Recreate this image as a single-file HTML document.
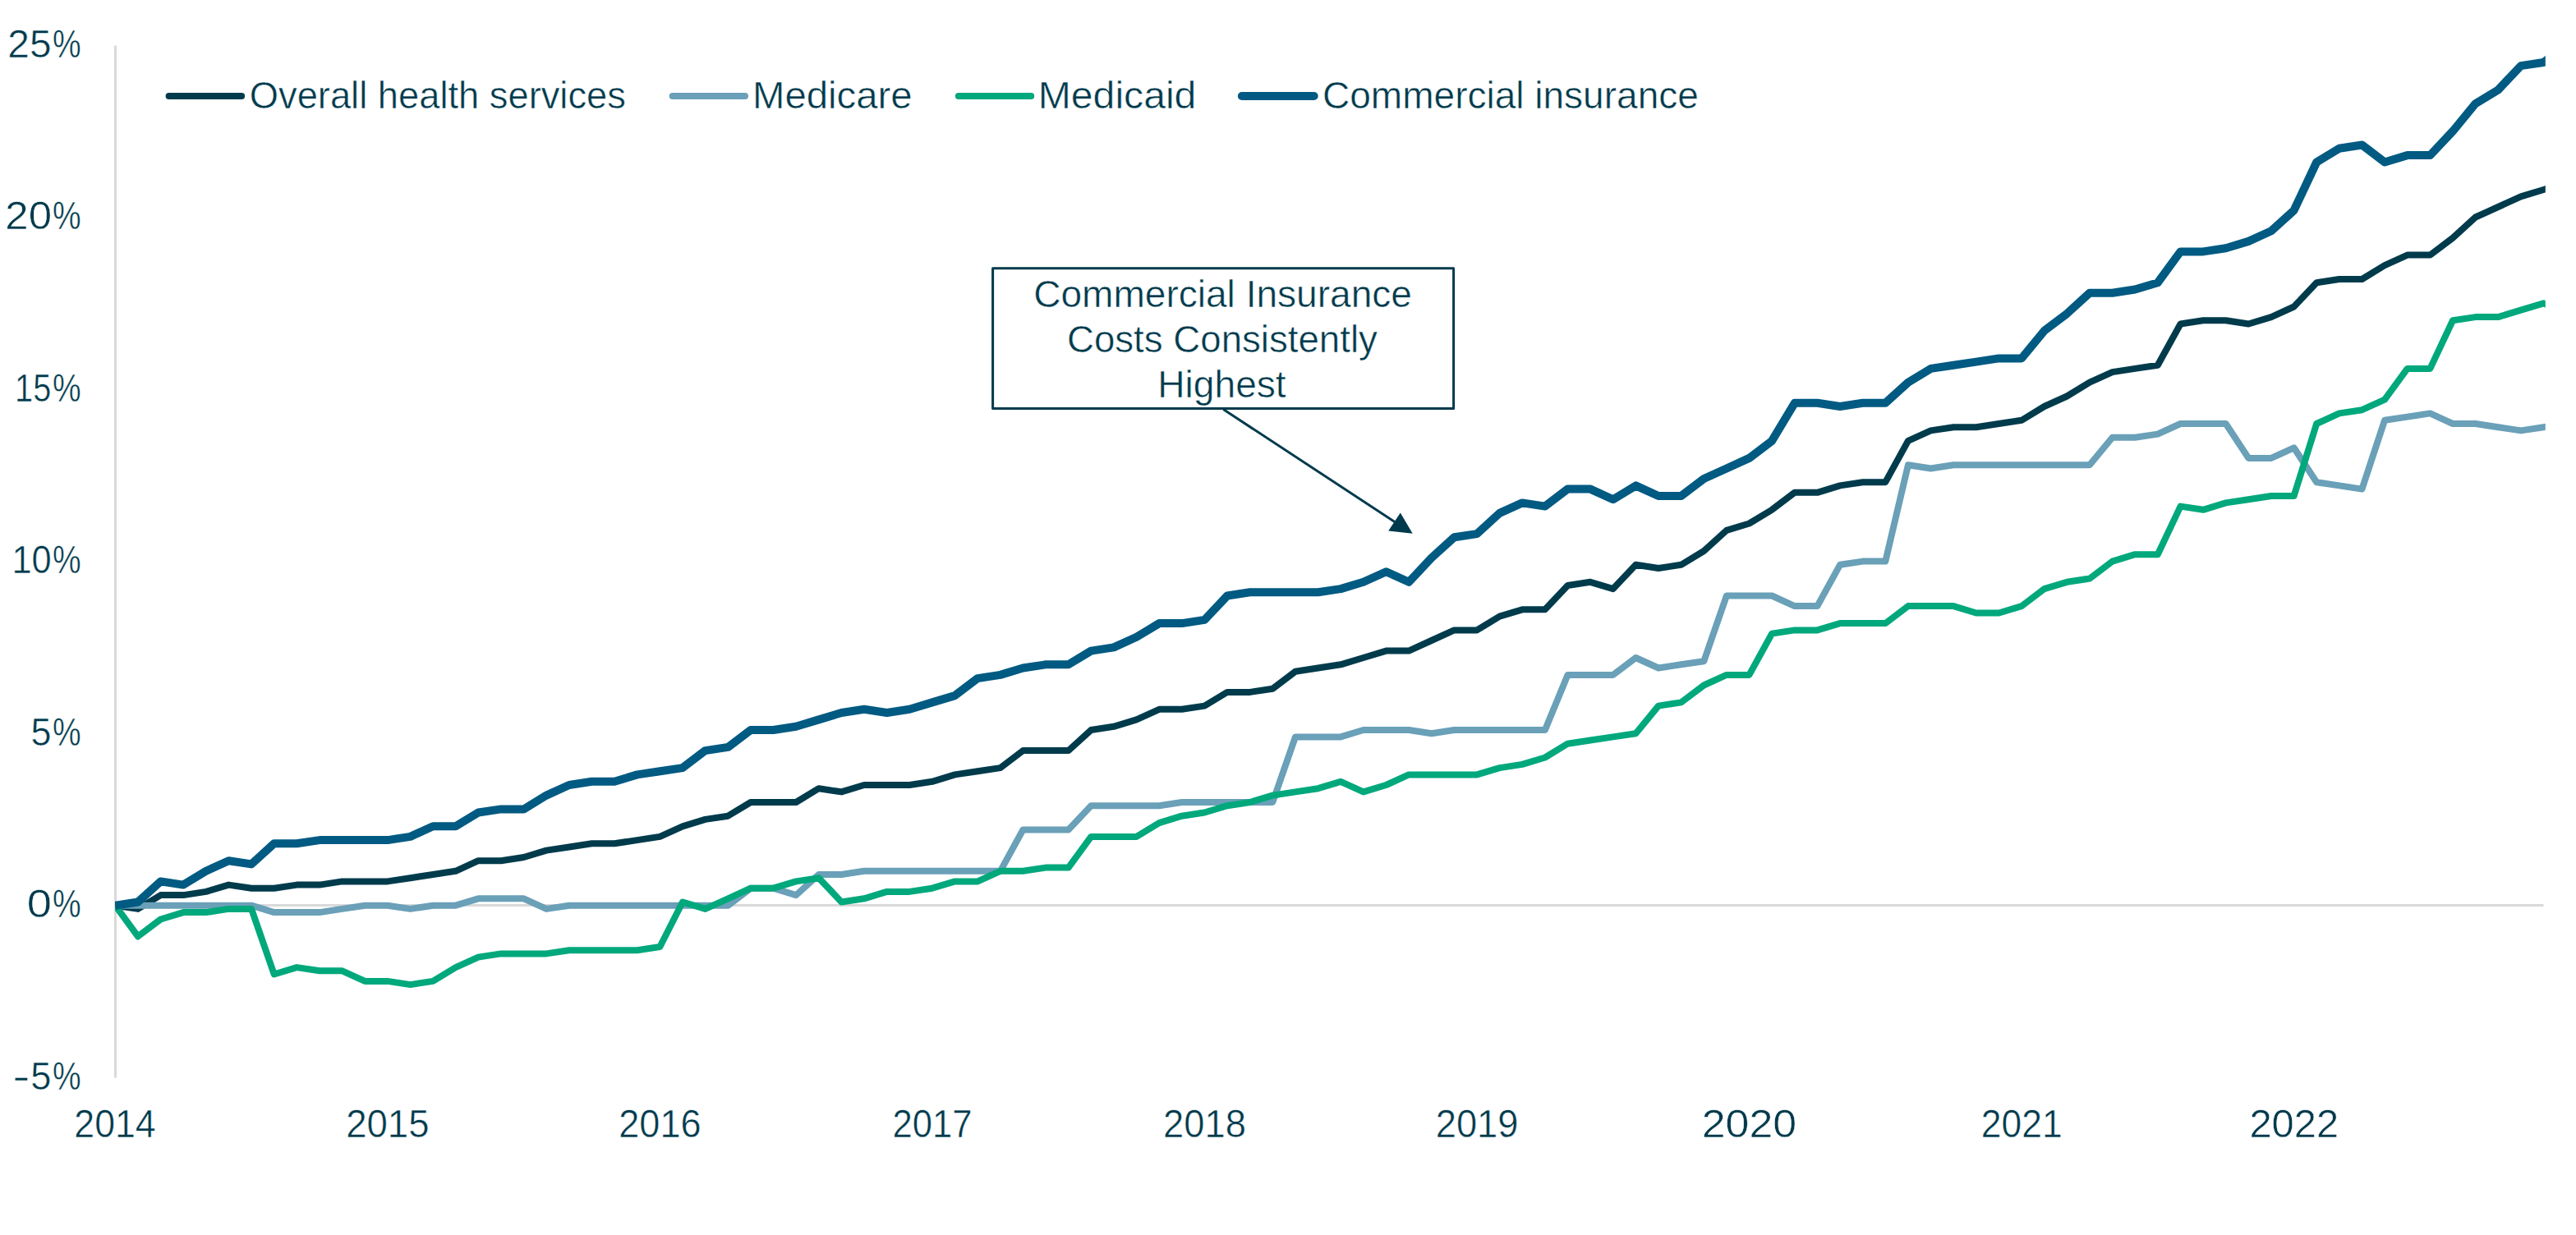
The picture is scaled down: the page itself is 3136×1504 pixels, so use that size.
<!DOCTYPE html>
<html lang="en"><head><meta charset="utf-8"><title>Cumulative percent change in health services prices by payer</title>
<style>
html,body{margin:0;padding:0;background:#fff;width:3136px;height:1504px;overflow:hidden;}
svg{display:block;}
text{font-family:"Liberation Sans",sans-serif;font-kerning:none;fill:#003a4c;stroke:#fff;stroke-width:0.5px;}
</style></head><body>
<svg width="3136" height="1504" viewBox="0 0 3136 1504">
<rect width="3136" height="1504" fill="#fff"/>
<defs><clipPath id="plot"><rect x="140" y="0" width="2958.8" height="1504"/></clipPath></defs>

<line x1="140.5" y1="55.4" x2="140.5" y2="1312.4" stroke="#d9d9d9" stroke-width="3"/>
<line x1="140" y1="1102.5" x2="3096.5" y2="1102.5" stroke="#d9d9d9" stroke-width="3"/>
<text font-size="47.30" y="69.70"><tspan x="9.39" textLength="53.22" lengthAdjust="spacingAndGlyphs">25</tspan><tspan x="63.91" textLength="34.68" lengthAdjust="spacingAndGlyphs">%</tspan></text>
<text font-size="47.30" y="279.18"><tspan x="6.34" textLength="56.65" lengthAdjust="spacingAndGlyphs">20</tspan><tspan x="63.91" textLength="34.68" lengthAdjust="spacingAndGlyphs">%</tspan></text>
<text font-size="47.30" y="488.66"><tspan x="18.07" textLength="44.19" lengthAdjust="spacingAndGlyphs">15</tspan><tspan x="63.91" textLength="34.68" lengthAdjust="spacingAndGlyphs">%</tspan></text>
<text font-size="47.30" y="698.14"><tspan x="14.39" textLength="48.30" lengthAdjust="spacingAndGlyphs">10</tspan><tspan x="63.91" textLength="34.68" lengthAdjust="spacingAndGlyphs">%</tspan></text>
<text font-size="47.30" y="907.62"><tspan x="37.50" textLength="24.99" lengthAdjust="spacingAndGlyphs">5</tspan><tspan x="63.91" textLength="34.68" lengthAdjust="spacingAndGlyphs">%</tspan></text>
<text font-size="47.30" y="1117.10"><tspan x="32.88" textLength="30.25" lengthAdjust="spacingAndGlyphs">0</tspan><tspan x="63.91" textLength="34.68" lengthAdjust="spacingAndGlyphs">%</tspan></text>
<text font-size="47.30" y="1326.58"><tspan x="15.24" textLength="21.41" lengthAdjust="spacingAndGlyphs">-</tspan><tspan x="37.28" textLength="25.22" lengthAdjust="spacingAndGlyphs">5</tspan><tspan x="63.91" textLength="34.68" lengthAdjust="spacingAndGlyphs">%</tspan></text>
<text font-size="47.30" y="1384.70"><tspan x="90.35" textLength="99.35" lengthAdjust="spacingAndGlyphs">2014</tspan></text>
<text font-size="47.30" y="1384.70"><tspan x="421.14" textLength="101.41" lengthAdjust="spacingAndGlyphs">2015</tspan></text>
<text font-size="47.30" y="1384.70"><tspan x="753.25" textLength="100.35" lengthAdjust="spacingAndGlyphs">2016</tspan></text>
<text font-size="47.30" y="1384.70"><tspan x="1086.62" textLength="96.99" lengthAdjust="spacingAndGlyphs">2017</tspan></text>
<text font-size="47.30" y="1384.70"><tspan x="1416.12" textLength="100.75" lengthAdjust="spacingAndGlyphs">2018</tspan></text>
<text font-size="47.30" y="1384.70"><tspan x="1747.70" textLength="100.83" lengthAdjust="spacingAndGlyphs">2019</tspan></text>
<text font-size="47.30" y="1384.70"><tspan x="2071.71" textLength="115.44" lengthAdjust="spacingAndGlyphs">2020</tspan></text>
<text font-size="47.30" y="1384.70"><tspan x="2411.87" textLength="98.70" lengthAdjust="spacingAndGlyphs">2021</tspan></text>
<text font-size="47.30" y="1384.70"><tspan x="2738.43" textLength="108.72" lengthAdjust="spacingAndGlyphs">2022</tspan></text>
<g clip-path="url(#plot)" fill="none" stroke-linejoin="round" stroke-linecap="butt">
<polyline points="140.3,1102.7 167.9,1106.9 195.6,1090.1 223.2,1090.1 250.8,1085.9 278.4,1077.6 306.1,1081.7 333.7,1081.7 361.3,1077.6 389.0,1077.6 416.6,1073.4 444.2,1073.4 471.8,1073.4 499.5,1069.2 527.1,1065.0 554.7,1060.8 582.3,1048.2 610.0,1048.2 637.6,1044.0 665.2,1035.6 692.9,1031.5 720.5,1027.3 748.1,1027.3 775.7,1023.1 803.4,1018.9 831.0,1006.3 858.6,997.9 886.3,993.7 913.9,977.0 941.5,977.0 969.1,977.0 996.8,960.2 1024.4,964.4 1052.0,956.0 1079.7,956.0 1107.3,956.0 1134.9,951.8 1162.5,943.4 1190.2,939.3 1217.8,935.1 1245.4,914.1 1273.0,914.1 1300.7,914.1 1328.3,889.0 1355.9,884.8 1383.6,876.4 1411.2,863.8 1438.8,863.8 1466.4,859.6 1494.1,842.9 1521.7,842.9 1549.3,838.7 1577.0,817.7 1604.6,813.5 1632.2,809.3 1659.8,801.0 1687.5,792.6 1715.1,792.6 1742.7,780.0 1770.4,767.4 1798.0,767.4 1825.6,750.7 1853.2,742.3 1880.9,742.3 1908.5,713.0 1936.1,708.8 1963.8,717.1 1991.4,687.8 2019.0,692.0 2046.6,687.8 2074.3,671.0 2101.9,645.9 2129.5,637.5 2157.1,620.8 2184.8,599.8 2212.4,599.8 2240.0,591.4 2267.7,587.2 2295.3,587.2 2322.9,536.9 2350.5,524.4 2378.2,520.2 2405.8,520.2 2433.4,516.0 2461.1,511.8 2488.7,495.0 2516.3,482.5 2543.9,465.7 2571.6,453.1 2599.2,448.9 2626.8,444.7 2654.5,394.5 2682.1,390.3 2709.7,390.3 2737.3,394.5 2765.0,386.1 2792.6,373.5 2820.2,344.2 2847.8,340.0 2875.5,340.0 2903.1,323.2 2930.7,310.6 2958.4,310.6 2986.0,289.7 3013.6,264.5 3041.2,252.0 3068.9,239.4 3096.5,231.0 3124.1,222.6" stroke="#003b4c" stroke-width="8"/>
<polyline points="140.3,1102.7 167.9,1102.7 195.6,1102.7 223.2,1102.7 250.8,1102.7 278.4,1102.7 306.1,1102.7 333.7,1111.1 361.3,1111.1 389.0,1111.1 416.6,1106.9 444.2,1102.7 471.8,1102.7 499.5,1106.9 527.1,1102.7 554.7,1102.7 582.3,1094.3 610.0,1094.3 637.6,1094.3 665.2,1106.9 692.9,1102.7 720.5,1102.7 748.1,1102.7 775.7,1102.7 803.4,1102.7 831.0,1102.7 858.6,1102.7 886.3,1102.7 913.9,1081.7 941.5,1081.7 969.1,1090.1 996.8,1065.0 1024.4,1065.0 1052.0,1060.8 1079.7,1060.8 1107.3,1060.8 1134.9,1060.8 1162.5,1060.8 1190.2,1060.8 1217.8,1060.8 1245.4,1010.5 1273.0,1010.5 1300.7,1010.5 1328.3,981.2 1355.9,981.2 1383.6,981.2 1411.2,981.2 1438.8,977.0 1466.4,977.0 1494.1,977.0 1521.7,977.0 1549.3,977.0 1577.0,897.4 1604.6,897.4 1632.2,897.4 1659.8,889.0 1687.5,889.0 1715.1,889.0 1742.7,893.2 1770.4,889.0 1798.0,889.0 1825.6,889.0 1853.2,889.0 1880.9,889.0 1908.5,821.9 1936.1,821.9 1963.8,821.9 1991.4,801.0 2019.0,813.5 2046.6,809.3 2074.3,805.2 2101.9,725.5 2129.5,725.5 2157.1,725.5 2184.8,738.1 2212.4,738.1 2240.0,687.8 2267.7,683.6 2295.3,683.6 2322.9,566.3 2350.5,570.5 2378.2,566.3 2405.8,566.3 2433.4,566.3 2461.1,566.3 2488.7,566.3 2516.3,566.3 2543.9,566.3 2571.6,532.8 2599.2,532.8 2626.8,528.6 2654.5,516.0 2682.1,516.0 2709.7,516.0 2737.3,557.9 2765.0,557.9 2792.6,545.3 2820.2,587.2 2847.8,591.4 2875.5,595.6 2903.1,511.8 2930.7,507.6 2958.4,503.4 2986.0,516.0 3013.6,516.0 3041.2,520.2 3068.9,524.4 3096.5,520.2 3124.1,516.0" stroke="#6aa0b8" stroke-width="8"/>
<polyline points="140.3,1102.7 167.9,1140.4 195.6,1119.5 223.2,1111.1 250.8,1111.1 278.4,1106.9 306.1,1106.9 333.7,1186.5 361.3,1178.1 389.0,1182.3 416.6,1182.3 444.2,1194.9 471.8,1194.9 499.5,1199.1 527.1,1194.9 554.7,1178.1 582.3,1165.6 610.0,1161.4 637.6,1161.4 665.2,1161.4 692.9,1157.2 720.5,1157.2 748.1,1157.2 775.7,1157.2 803.4,1153.0 831.0,1098.5 858.6,1106.9 886.3,1094.3 913.9,1081.7 941.5,1081.7 969.1,1073.4 996.8,1069.2 1024.4,1098.5 1052.0,1094.3 1079.7,1085.9 1107.3,1085.9 1134.9,1081.7 1162.5,1073.4 1190.2,1073.4 1217.8,1060.8 1245.4,1060.8 1273.0,1056.6 1300.7,1056.6 1328.3,1018.9 1355.9,1018.9 1383.6,1018.9 1411.2,1002.1 1438.8,993.7 1466.4,989.5 1494.1,981.2 1521.7,977.0 1549.3,968.6 1577.0,964.4 1604.6,960.2 1632.2,951.8 1659.8,964.4 1687.5,956.0 1715.1,943.4 1742.7,943.4 1770.4,943.4 1798.0,943.4 1825.6,935.1 1853.2,930.9 1880.9,922.5 1908.5,905.7 1936.1,901.5 1963.8,897.4 1991.4,893.2 2019.0,859.6 2046.6,855.4 2074.3,834.5 2101.9,821.9 2129.5,821.9 2157.1,771.6 2184.8,767.4 2212.4,767.4 2240.0,759.1 2267.7,759.1 2295.3,759.1 2322.9,738.1 2350.5,738.1 2378.2,738.1 2405.8,746.5 2433.4,746.5 2461.1,738.1 2488.7,717.1 2516.3,708.8 2543.9,704.6 2571.6,683.6 2599.2,675.2 2626.8,675.2 2654.5,616.6 2682.1,620.8 2709.7,612.4 2737.3,608.2 2765.0,604.0 2792.6,604.0 2820.2,516.0 2847.8,503.4 2875.5,499.2 2903.1,486.7 2930.7,448.9 2958.4,448.9 2986.0,390.3 3013.6,386.1 3041.2,386.1 3068.9,377.7 3096.5,369.3 3124.1,381.9" stroke="#00a87c" stroke-width="8"/>
<polyline points="140.3,1102.7 167.9,1098.5 195.6,1073.4 223.2,1077.6 250.8,1060.8 278.4,1048.2 306.1,1052.4 333.7,1027.3 361.3,1027.3 389.0,1023.1 416.6,1023.1 444.2,1023.1 471.8,1023.1 499.5,1018.9 527.1,1006.3 554.7,1006.3 582.3,989.5 610.0,985.4 637.6,985.4 665.2,968.6 692.9,956.0 720.5,951.8 748.1,951.8 775.7,943.4 803.4,939.3 831.0,935.1 858.6,914.1 886.3,909.9 913.9,889.0 941.5,889.0 969.1,884.8 996.8,876.4 1024.4,868.0 1052.0,863.8 1079.7,868.0 1107.3,863.8 1134.9,855.4 1162.5,847.1 1190.2,826.1 1217.8,821.9 1245.4,813.5 1273.0,809.3 1300.7,809.3 1328.3,792.6 1355.9,788.4 1383.6,775.8 1411.2,759.1 1438.8,759.1 1466.4,754.9 1494.1,725.5 1521.7,721.3 1549.3,721.3 1577.0,721.3 1604.6,721.3 1632.2,717.1 1659.8,708.8 1687.5,696.2 1715.1,708.8 1742.7,679.4 1770.4,654.3 1798.0,650.1 1825.6,624.9 1853.2,612.4 1880.9,616.6 1908.5,595.6 1936.1,595.6 1963.8,608.2 1991.4,591.4 2019.0,604.0 2046.6,604.0 2074.3,583.0 2101.9,570.5 2129.5,557.9 2157.1,536.9 2184.8,490.8 2212.4,490.8 2240.0,495.0 2267.7,490.8 2295.3,490.8 2322.9,465.7 2350.5,448.9 2378.2,444.7 2405.8,440.6 2433.4,436.4 2461.1,436.4 2488.7,402.8 2516.3,381.9 2543.9,356.7 2571.6,356.7 2599.2,352.5 2626.8,344.2 2654.5,306.4 2682.1,306.4 2709.7,302.3 2737.3,293.9 2765.0,281.3 2792.6,256.2 2820.2,197.5 2847.8,180.7 2875.5,176.5 2903.1,197.5 2930.7,189.1 2958.4,189.1 2986.0,159.8 3013.6,126.2 3041.2,109.5 3068.9,80.1 3096.5,76.0 3124.1,55.0" stroke="#005a82" stroke-width="10"/>
</g>
<g fill="none" stroke-linecap="round">
<line x1="205.6" y1="117" x2="294.1" y2="117" stroke="#003b4c" stroke-width="8"/>
<line x1="818.7" y1="117" x2="907" y2="117" stroke="#6aa0b8" stroke-width="8"/>
<line x1="1166.9" y1="117" x2="1255.2" y2="117" stroke="#00a87c" stroke-width="8"/>
<line x1="1511.8" y1="117" x2="1599.7" y2="117" stroke="#005a82" stroke-width="10"/>
</g>
<text font-size="45.50" y="131.70"><tspan x="303.75" textLength="458.18" lengthAdjust="spacingAndGlyphs">Overall health services</tspan></text>
<text font-size="45.50" y="131.70"><tspan x="916.02" textLength="194.69" lengthAdjust="spacingAndGlyphs">Medicare</tspan></text>
<text font-size="45.50" y="131.70"><tspan x="1263.75" textLength="192.65" lengthAdjust="spacingAndGlyphs">Medicaid</tspan></text>
<text font-size="45.50" y="131.70"><tspan x="1610.06" textLength="457.78" lengthAdjust="spacingAndGlyphs">Commercial insurance</tspan></text>
<rect x="1208.6" y="326.7" width="561" height="170.8" fill="#fff" stroke="#003a4c" stroke-width="3" stroke-linejoin="round"/>
<text font-size="45.50" y="373.50"><tspan x="1258.16" textLength="460.79" lengthAdjust="spacingAndGlyphs">Commercial Insurance</tspan></text>
<text font-size="45.50" y="428.50"><tspan x="1298.98" textLength="377.91" lengthAdjust="spacingAndGlyphs">Costs Consistently</tspan></text>
<text font-size="45.50" y="484.00"><tspan x="1409.32" textLength="156.32" lengthAdjust="spacingAndGlyphs">Highest</tspan></text>
<line x1="1489.3" y1="498.5" x2="1702" y2="638.2" stroke="#003a4c" stroke-width="3"/>
<polygon points="1704.8,624.5 1690.2,646.5 1719.7,649.8" fill="#003a4c"/>
</svg></body></html>
